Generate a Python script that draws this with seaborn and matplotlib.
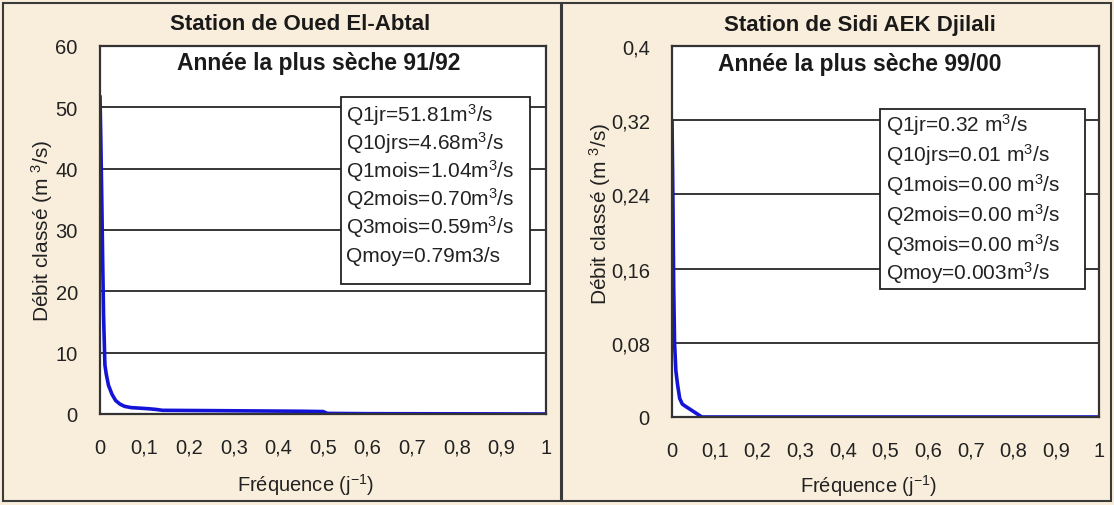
import matplotlib
matplotlib.use("Agg")
import matplotlib.pyplot as plt
import seaborn as sns
import pandas as pd
from matplotlib.patches import Rectangle

# ---- data ----
freq_left = [0.0, 0.002, 0.004, 0.006, 0.008, 0.011, 0.014, 0.019, 0.027, 0.035, 0.045,
             0.055, 0.07, 0.09, 0.11, 0.125, 0.14, 0.25, 0.35, 0.45, 0.5, 0.51, 0.6, 0.8, 1.0]
q_left = [51.81, 44.0, 35.0, 25.0, 16.0, 8.0, 6.5, 4.68, 3.2, 2.2, 1.6,
          1.25, 1.04, 0.95, 0.85, 0.75, 0.6, 0.55, 0.5, 0.45, 0.4, 0.1, 0.05, 0.03, 0.0]
freq_right = [0.0, 0.002, 0.004, 0.006, 0.009, 0.013, 0.018, 0.024, 0.03, 0.04, 0.05,
              0.06, 0.07, 0.1, 0.5, 1.0]
q_right = [0.32, 0.24, 0.14, 0.08, 0.05, 0.035, 0.02, 0.014, 0.012, 0.009, 0.006,
           0.003, 0.0, 0.0, 0.0, 0.0]

stations = ["Station de Oued El-Abtal", "Station de Sidi AEK Djilali"]
subtitles = ["Année la plus sèche 91/92", "Année la plus sèche 99/00"]
box_left = ["Q1jr=51.81m$^3$/s", "Q10jrs=4.68m$^3$/s", "Q1mois=1.04m$^3$/s",
            "Q2mois=0.70m$^3$/s", "Q3mois=0.59m$^3$/s", "Qmoy=0.79m3/s"]
box_right = ["Q1jr=0.32 m$^3$/s", "Q10jrs=0.01 m$^3$/s", "Q1mois=0.00 m$^3$/s",
             "Q2mois=0.00 m$^3$/s", "Q3mois=0.00 m$^3$/s", "Qmoy=0.003m$^3$/s"]
xticks = [0, 0.1, 0.2, 0.3, 0.4, 0.5, 0.6, 0.7, 0.8, 0.9, 1.0]
xticklabels = ["0", "0,1", "0,2", "0,3", "0,4", "0,5", "0,6", "0,7", "0,8", "0,9", "1"]
yticks_left = [0, 10, 20, 30, 40, 50, 60]
yticklabels_left = ["0", "10", "20", "30", "40", "50", "60"]
yticks_right = [0, 0.08, 0.16, 0.24, 0.32, 0.4]
yticklabels_right = ["0", "0,08", "0,16", "0,24", "0,32", "0,4"]

sns.set_style("white")
plt.rcParams['font.family'] = ['Liberation Sans', 'DejaVu Sans']
plt.rcParams['mathtext.fontset'] = 'custom'
plt.rcParams['mathtext.rm'] = 'Liberation Sans'
plt.rcParams['mathtext.it'] = 'Liberation Sans'

BG = "#F9EEDB"
W, H = 1114, 506
fig = plt.figure(figsize=(W / 100, H / 100), dpi=100, facecolor=BG)

def fx(px):
    return px / W

def fy(py):
    return 1 - py / H

# panel frames
for (x0, x1) in [(3, 561), (562, 1111)]:
    fig.add_artist(Rectangle((fx(x0), fy(502)), fx(x1 - x0), (502 - 4) / H,
                             transform=fig.transFigure, fill=False,
                             edgecolor="#3a3a3a", lw=1.5))

ax_pos = [
    (100, 546, 47, 415),
    (672, 1099, 47, 418),
]
data = [
    pd.DataFrame({"f": freq_left, "q": q_left}),
    pd.DataFrame({"f": freq_right, "q": q_right}),
]
yticks = [yticks_left, yticks_right]
yticklabels = [yticklabels_left, yticklabels_right]
ylims = [60, 0.4]
boxes = [box_left, box_right]
box_geom = [
    dict(x0=0.540, x1=0.964, yt=0.861, yb=0.353, tx=0.552,
         ty=[0.815, 0.739, 0.663, 0.587, 0.511, 0.432]),
    dict(x0=0.487, x1=0.967, yt=0.830, yb=0.345, tx=0.500,
         ty=[0.790, 0.709, 0.628, 0.547, 0.466, 0.391]),
]
sub_pos = [(0.49, 0.954), (0.44, 0.954)]
title_pos = [(300, 25), (860, 25)]
ylab_coords = [(-0.10, 0.50), (-0.138, 0.55)]
xlab_coords = [(0.46, -0.155), (0.46, -0.148)]

FS = 14.5

for i in range(2):
    x0, x1, yt, yb = ax_pos[i]
    ax = fig.add_axes([fx(x0), fy(yb), (x1 - x0) / W, (yb - yt) / H])
    ax.set_facecolor("white")
    sns.lineplot(data=data[i], x="f", y="q", ax=ax, color="#1414D8", lw=2.6,
                 estimator=None, sort=False)
    ax.set_xlim(0, 1)
    ax.set_ylim(0, ylims[i])
    ax.set_xticks(xticks)
    ax.set_xticklabels(xticklabels, fontsize=FS, color="#222222")
    ax.set_yticks(yticks[i])
    ax.set_yticklabels(yticklabels[i], fontsize=FS, color="#222222")
    ax.tick_params(axis="x", direction="in", length=5, width=1, color="#333333", pad=17)
    ax.tick_params(axis="y", length=0, pad=16)
    for v in yticks[i][1:-1]:
        ax.axhline(v, color="black", lw=1.1, zorder=1)
    for s in ax.spines.values():
        s.set_color("#333333")
        s.set_linewidth(1.6)
    ax.set_xlabel("Fréquence (j$^{-1}$)", fontsize=FS, color="#222222")
    ax.set_ylabel("Débit classé (m $^3$/s)", fontsize=15, color="#222222")
    ax.xaxis.set_label_coords(*xlab_coords[i])
    ax.yaxis.set_label_coords(*ylab_coords[i])
    # subtitle
    ax.text(sub_pos[i][0], sub_pos[i][1], subtitles[i], transform=ax.transAxes,
            ha="center", va="center", fontsize=16.5, fontweight="bold", color="#1a1a1a")
    # info box
    g = box_geom[i]
    ax.add_patch(Rectangle((g["x0"], g["yb"]), g["x1"] - g["x0"], g["yt"] - g["yb"],
                           transform=ax.transAxes, facecolor="white",
                           edgecolor="#222222", lw=1.3, zorder=5))
    for txt, ty in zip(boxes[i], g["ty"]):
        ax.text(g["tx"], ty, txt, transform=ax.transAxes, ha="left", va="center",
                fontsize=15, color="#222222", zorder=6)
    # station title
    fig.text(fx(title_pos[i][0]), fy(title_pos[i][1]), stations[i], ha="center",
             va="center", fontsize=16, fontweight="bold", color="#1a1a1a")

fig.savefig("out.png", dpi=100, facecolor=BG)
